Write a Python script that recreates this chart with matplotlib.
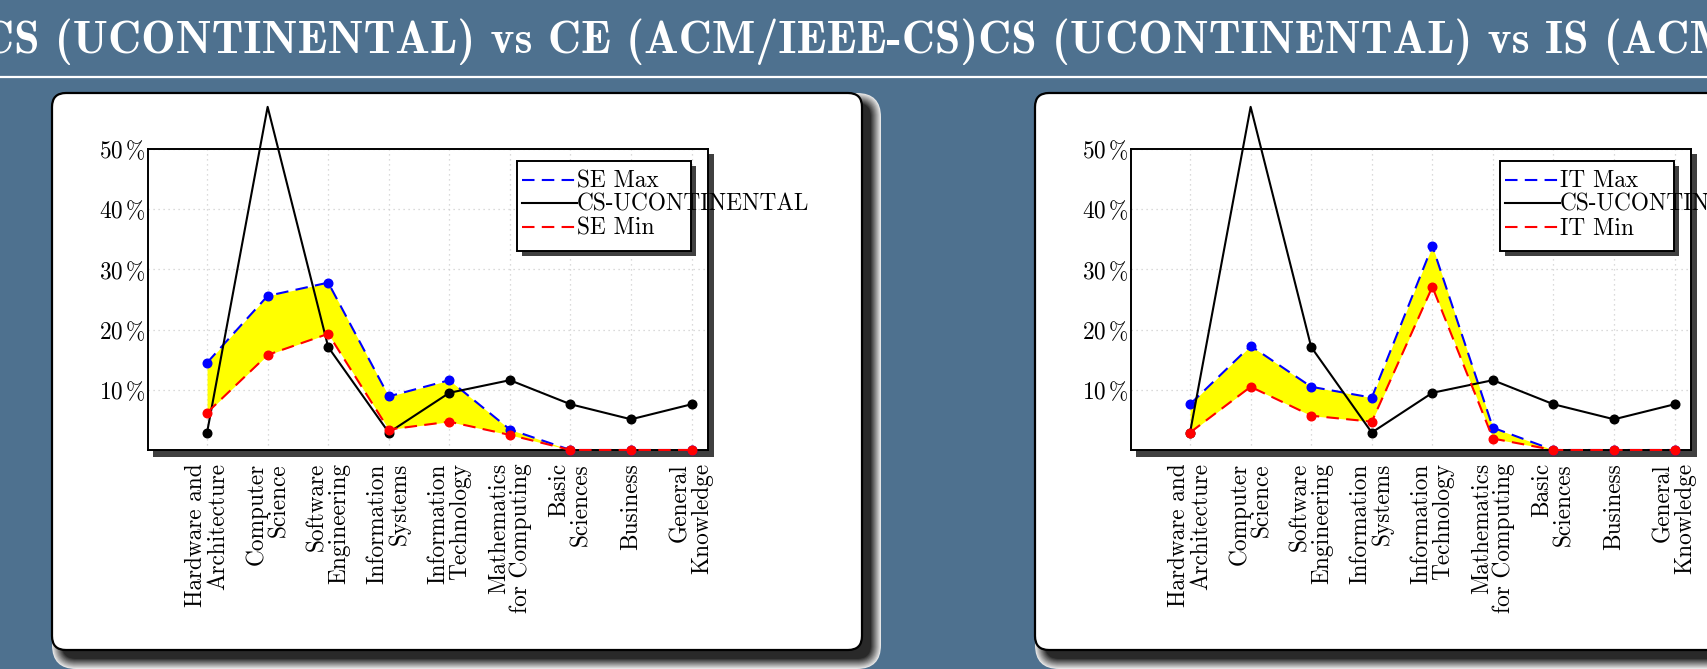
import matplotlib
matplotlib.use("Agg")
import matplotlib.pyplot as plt
from matplotlib.patches import FancyBboxPatch, Rectangle

# ---------------------------------------------------------------- data
categories = [
    "Hardware and\nArchitecture", "Computer\nScience", "Software\nEngineering",
    "Information\nSystems", "Information\nTechnology", "Mathematics\nfor Computing",
    "Basic\nSciences", "Business", "General\nKnowledge",
]
cs_ucontinental = [2.9, 57.0, 17.1, 2.9, 9.5, 11.6, 7.6, 5.1, 7.6]
se_max = [14.5, 25.6, 27.8, 8.9, 11.6, 3.4, 0, 0, 0]
se_min = [6.2, 15.8, 19.3, 3.4, 4.7, 2.5, 0, 0, 0]
it_max = [7.6, 17.3, 10.5, 8.7, 33.9, 3.7, 0, 0, 0]
it_min = [2.9, 10.5, 5.7, 4.7, 27.1, 1.9, 0, 0, 0]
y_ticks = [10, 20, 30, 40, 50]
y_tick_labels = [r"10$\,$%", r"20$\,$%", r"30$\,$%", r"40$\,$%", r"50$\,$%"]
titles = ["CS (UCONTINENTAL) vs CE (ACM/IEEE-CS)",
          "CS (UCONTINENTAL) vs IS (ACM/IEEE-CS)"]
panels = [("SE", se_max, se_min), ("IT", it_max, it_min)]
series_label = "CS-UCONTINENTAL"

# ---------------------------------------------------------------- canvas
plt.rcParams["mathtext.fontset"] = "cm"
W, H = 1708, 669
BG = "#4e718f"
fig = plt.figure(figsize=(W / 100, H / 100), dpi=100, facecolor=BG)

bg = fig.add_axes([0, 0, 1, 1], zorder=0)
bg.set_xlim(0, W)
bg.set_ylim(H, 0)
bg.axis("off")
bg.set_facecolor(BG)

top = fig.add_axes([0, 0, 1, 1], zorder=10)
top.set_xlim(0, W)
top.set_ylim(H, 0)
top.axis("off")
top.patch.set_alpha(0)

ROMAN = "cmr10"
FS = 16.8
LW = 1.5
DASH = (0, (6, 3.5))


def rounded(ax, x0, y0, x1, y1, r, **kw):
    p = FancyBboxPatch((x0 + r, y0 + r), (x1 - x0) - 2 * r, (y1 - y0) - 2 * r,
                       boxstyle=f"round,pad={r},rounding_size={r}", **kw)
    ax.add_patch(p)
    return p


# title bar rule
bg.plot([0, W], [76.5, 76.5], color="white", lw=1.6, solid_capstyle="butt")

# frame title (one long line that runs off both edges)
fig.canvas.draw()
renderer = fig.canvas.get_renderer()
probe = bg.text(0, 0, titles[0], fontfamily="cmb10", fontsize=36)
w36 = probe.get_window_extent(renderer).width
probe.remove()
title_fs = 36 * 998 / w36
probe = bg.text(0, 0, titles[0], fontfamily="cmb10", fontsize=title_fs)
w0 = probe.get_window_extent(renderer).width
probe.remove()
bg.text(978 - w0, 53, "".join(titles), fontfamily="cmb10", fontsize=title_fs,
        color="white", ha="left", va="baseline")

PANEL_SHIFT = 983
for k, (prefix, vmax, vmin) in enumerate(panels):
    off = k * PANEL_SHIFT

    # block with soft drop shadow
    n = 10
    for i in range(n, -1, -1):
        g = 0.16 + 0.74 * i / n
        rounded(bg, 52 + off + 10 - i, 93 + 10 - i, 862 + off + 9 + i, 650 + 9 + i,
                14 + i, facecolor=(g, g, g), edgecolor="none", zorder=1)
    rounded(bg, 52 + off, 93, 862 + off, 650, 14, facecolor="white",
            edgecolor="black", lw=1.6, zorder=2)

    # axis drop shadow
    bg.add_patch(Rectangle((153 + off, 154), 561, 303, facecolor="#404040",
                           edgecolor="none", zorder=3))

    ax = fig.add_axes([(148 + off) / W, 1 - 450 / H, 560 / W, 301 / H], zorder=2)
    ax.set_facecolor("white")
    ax.set_xlim(-0.975, 8.27)
    ax.set_ylim(0, 50)
    x = list(range(len(categories)))

    ax.fill_between(x, vmin, vmax, color="#ffff00", lw=0, zorder=1)
    ax.plot(x, vmax, color="#0000ff", lw=LW, ls=DASH, marker="o", ms=6.2,
            clip_on=False, zorder=2)
    ax.plot(x, cs_ucontinental, color="black", lw=LW, clip_on=False, zorder=3)
    in_range = [(xi, v) for xi, v in zip(x, cs_ucontinental) if v <= 50]
    ax.plot([p[0] for p in in_range], [p[1] for p in in_range], ls="none",
            marker="o", ms=6.2, color="black", clip_on=False, zorder=3)
    ax.plot(x, vmin, color="#ff0000", lw=LW, ls=DASH, marker="o", ms=6.2,
            clip_on=False, zorder=4)

    ax.set_axisbelow(True)
    ax.grid(True, color="#cfcfcf", ls=(0, (1, 3)), lw=0.9)
    ax.set_xticks(x)
    ax.set_xticklabels(categories, rotation=90, ha="right", va="center",
                       rotation_mode="anchor", multialignment="right",
                       fontfamily=ROMAN, fontsize=FS, linespacing=1.0)
    ax.set_yticks(y_ticks)
    ax.set_yticklabels(y_tick_labels, fontfamily=ROMAN, fontsize=FS)
    ax.tick_params(axis="x", length=0, pad=9.5)
    ax.tick_params(axis="y", length=0, pad=1.5)
    for s in ax.spines.values():
        s.set_linewidth(1.4)
        s.set_color("black")

    # legend box (text runs past the frame)
    lx0, ly0, lx1, ly1 = 516.7 + off, 161, 690.7 + off, 250.7
    top.add_patch(Rectangle((lx0 + 5, ly0 + 5), lx1 - lx0, ly1 - ly0,
                            facecolor="#404040", edgecolor="none", zorder=1))
    top.add_patch(Rectangle((lx0, ly0), lx1 - lx0, ly1 - ly0, facecolor="white",
                            edgecolor="black", lw=1.4, zorder=2))
    entries = [(f"{prefix} Max", "#0000ff", DASH),
               (series_label, "black", "-"),
               (f"{prefix} Min", "#ff0000", DASH)]
    for i, (lab, col, ls) in enumerate(entries):
        yb = 187 + 23.9 * i
        ym = yb - 7.5
        top.plot([522 + off, 577 + off], [ym, ym], color=col, lw=LW, ls=ls,
                 zorder=3)
        top.text(577 + off, yb, lab, fontfamily=ROMAN, fontsize=FS,
                 ha="left", va="baseline", zorder=4)

fig.savefig("out.png", dpi=100, facecolor=BG)
